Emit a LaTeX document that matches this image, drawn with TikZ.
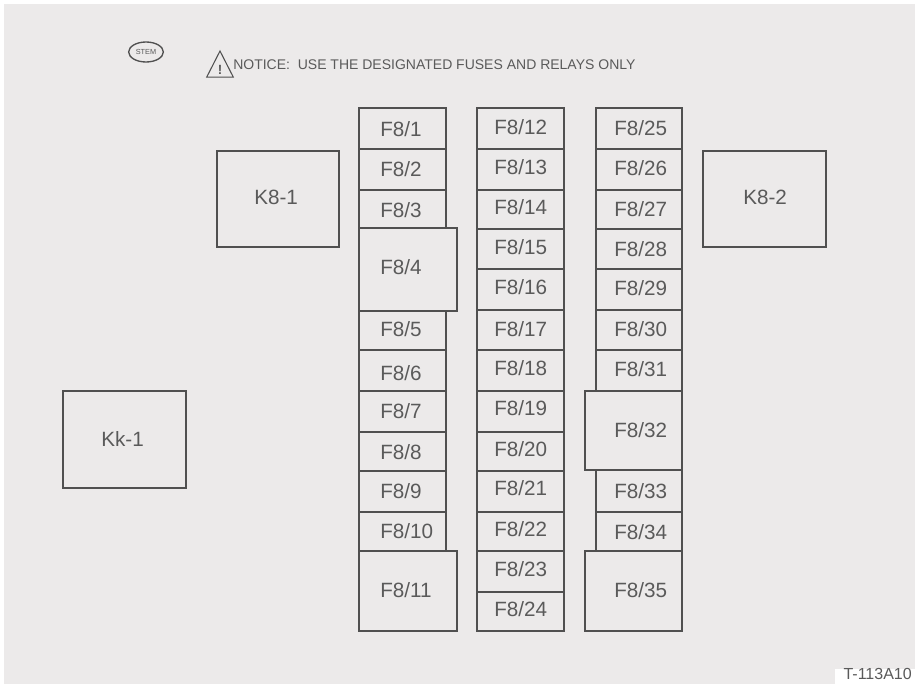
\documentclass[tikz,border=0pt]{standalone}
\usepackage{fontspec}
\setmainfont{Liberation Sans}
\usetikzlibrary{shapes.geometric,calc}
\definecolor{bg}{HTML}{ECEAEA}
\definecolor{ink}{HTML}{505050}
\definecolor{txt}{HTML}{5A5A5A}
\tikzset{
  x=0.75pt,y=-0.75pt,
  fusebox/.style={draw=ink,line width=1.9pt,fill=bg,rectangle,inner sep=0pt,outer sep=0pt,anchor=north west},
  relaybox/.style={draw=ink,line width=1.5pt,fill=bg,rectangle,inner sep=0pt,outer sep=0pt,anchor=north west},
  lab/.style={text=txt,font=\fontsize{15.5}{17}\selectfont,inner sep=0pt,anchor=west},
}
\newcommand{\fusecell}[7]{%
  \pgfmathsetmacro{\cellw}{(#3-#1)*0.75}\pgfmathsetmacro{\cellh}{(#4-#2)*0.75}%
  \node[fusebox,minimum width=\cellw pt,minimum height=\cellh pt] (box#5) at (#1,#2) {};
  \node[lab] (lab#5) at (#6,#7) {F8/#5};
}
\newcommand{\relaycell}[8]{%
  \pgfmathsetmacro{\cellw}{(#3-#1)*0.75}\pgfmathsetmacro{\cellh}{(#4-#2)*0.75}%
  \node[relaybox,minimum width=\cellw pt,minimum height=\cellh pt] (rel#5) at (#1,#2) {};
  \node[lab] (lab#5) at (#7,#8) {#6};
}
\begin{document}
\begin{tikzpicture}
\useasboundingbox (0,0) rectangle (915,684);
\fill[white] (0,0) rectangle (915,684);
\fill[bg] (4,4) rectangle (915,669);
\fill[bg] (4,669) rectangle (835,684);
% column 1
\foreach \n/\ya/\yb/\yt in {1/108/149/129,2/149/190/169,3/190/228/210,5/311/350/329,6/350/391/373,7/391/432/411,8/432/471/452,9/471/512/491,10/512/551/531}
  {\fusecell{359}{\ya}{446}{\yb}{\n}{380}{\yt}}
\fusecell{359}{228}{457}{311}{4}{380}{267}
\fusecell{359}{551}{457}{631}{11}{380}{590}
% column 2
\foreach \n/\ya/\yb/\yt in {12/108/149/127,13/149/190/167,14/190/229/207,15/229/269/247,16/269/310/287,17/310/350/329,18/350/391/368,19/391/432/408,20/432/471/449,21/471/512/488,22/512/551/529,23/551/592/569,24/592/631/609}
  {\fusecell{477}{\ya}{564}{\yb}{\n}{494}{\yt}}
% column 3
\foreach \n/\ya/\yb/\yt in {25/108/149/128,26/149/190/168,27/190/229/209,28/229/269/249,29/269/310/288,30/310/350/329,31/350/391/369,33/470/512/491,34/512/551/532}
  {\fusecell{596}{\ya}{682}{\yb}{\n}{614}{\yt}}
\fusecell{585}{391}{682}{470}{32}{614}{430}
\fusecell{585}{551}{682}{631}{35}{614}{590}
% relays
\relaycell{217}{151}{339}{247}{k1}{K8-1}{254}{197}
\relaycell{703}{151}{826}{247}{k2}{K8-2}{743}{197}
\relaycell{63}{391}{186}{488}{k3}{Kk-1}{101}{439}
% header
\node[ellipse,draw=ink,line width=1pt,minimum width=26pt,minimum height=15pt,inner sep=0pt,outer sep=0pt,text=txt,font=\fontsize{5.5}{6}\selectfont] (stem) at (146,52) {STEM};
\node[isosceles triangle,isosceles triangle apex angle=54,shape border rotate=90,draw=ink,line width=0.8pt,minimum height=19pt,minimum width=20pt,inner sep=0pt,outer sep=0pt] (warn) at (220,69) {};
\node[text=txt,font=\bfseries\fontsize{10}{10}\selectfont,inner sep=0pt] (bang) at (220,70) {!};
\node[anchor=west,inner sep=0pt,text=txt,font=\fontsize{10.5}{12}\selectfont] (notice) at (233,65) {NOTICE:\ \ USE THE DESIGNATED FUSES AND RELAYS ONLY};
\node[anchor=east,inner sep=0pt,text=txt,font=\fontsize{12}{13}\selectfont] (code) at (912,674) {T-113A10};
\end{tikzpicture}
\end{document}
